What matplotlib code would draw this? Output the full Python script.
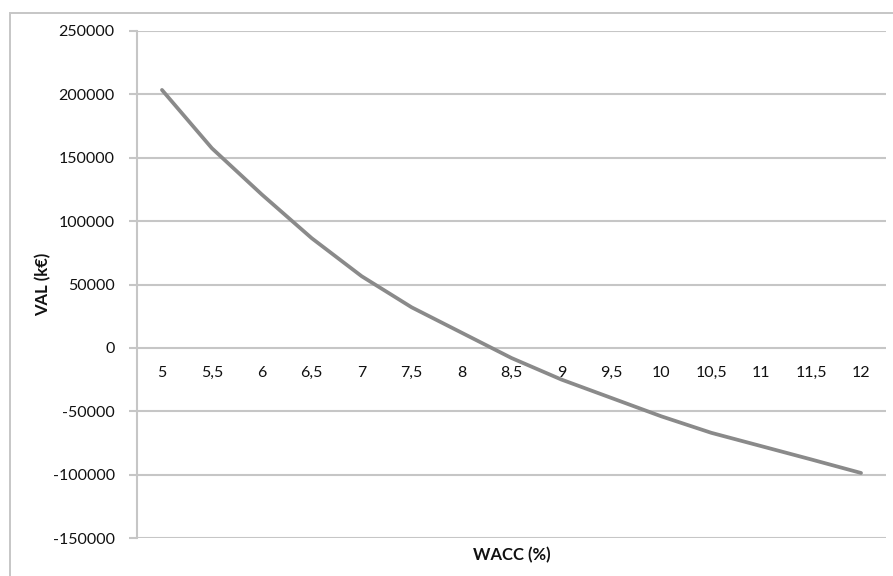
#! usr/bin/env python3

import matplotlib
matplotlib.use("Agg")
import matplotlib.pyplot as plt
from matplotlib.patches import Rectangle

# data
wacc = [5, 5.5, 6, 6.5, 7, 7.5, 8, 8.5, 9, 9.5, 10, 10.5, 11, 11.5, 12]
wacc_labels = ['5', '5,5', '6', '6,5', '7', '7,5', '8', '8,5', '9', '9,5',
               '10', '10,5', '11', '11,5', '12']
val = [203500, 157500, 121000, 86500, 56500, 32000, 12000, -8000, -25000,
       -39500, -54000, -67000, -77500, -88000, -98700]
y_ticks = [-150000, -100000, -50000, 0, 50000, 100000, 150000, 200000, 250000]

grid_col = '#c6c6c6'
line_col = '#8a8a8a'
txt_col = '#111111'
plt.rcParams['font.family'] = ['Lato', 'DejaVu Sans']

fig = plt.figure(figsize=(8.93, 5.76), dpi=100)
W, H = 893, 576

# outer chart border (clipped at right and bottom like the source)
fig.patches.append(Rectangle((10 / W, -0.05), 1.0, 1 - 13 / H + 0.05,
                             transform=fig.transFigure, fill=False,
                             edgecolor=grid_col, linewidth=1.4))

ax = fig.add_axes([137 / W, 1 - 538 / H, (886 - 137) / W, (538 - 31) / H])
idx = list(range(len(wacc)))
ax.plot(idx, val, color=line_col, linewidth=2.7, solid_capstyle='round', zorder=3)

ax.set_xlim(-0.5, len(wacc) - 0.5)
ax.set_ylim(-150000, 250000)
ax.set_yticks(y_ticks)
ax.set_yticklabels([str(t) for t in y_ticks], fontsize=11.5, color=txt_col)
for t in y_ticks:
    ax.axhline(t, color=grid_col, linewidth=1.5, zorder=1)

for s in ['top', 'right', 'bottom']:
    ax.spines[s].set_visible(False)
ax.spines['left'].set_color(grid_col)
ax.spines['left'].set_linewidth(1.5)
ax.tick_params(axis='y', length=6, width=1.5, color=grid_col, pad=10)
ax.set_xticks([])

# category labels sit just under the zero line
for i, lab in zip(idx, wacc_labels):
    ax.annotate(lab, xy=(i, 0), xytext=(0, -25), textcoords='offset pixels',
                ha='center', va='center', fontsize=11.5, color=txt_col)

fig.text(43 / W, 1 - 284 / H, 'VAL (k€)', rotation=90, ha='center',
         va='center', fontsize=12, fontweight='bold', color=txt_col)
fig.text(512 / W, 1 - 555 / H, 'WACC (%)', ha='center', va='center',
         fontsize=12, fontweight='bold', color=txt_col)

fig.savefig('out.png', dpi=100)
